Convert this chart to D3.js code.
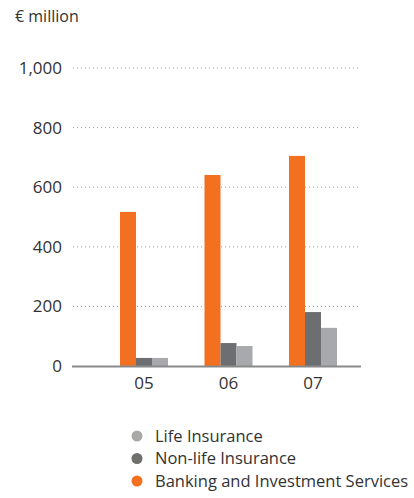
<!DOCTYPE html>
<html><head><meta charset="utf-8">
<script src="https://cdn.jsdelivr.net/npm/d3@7"></script>
<style>body{margin:0;background:#fff}svg{display:block}</style>
</head><body>
<svg id="c" width="414" height="498"></svg>
<script>
const years = ["05", "06", "07"];
const seriesNames = ["Banking and Investment Services", "Non-life Insurance", "Life Insurance"];
const banking = [517, 641, 705];
const nonLife = [27, 77, 181];
const life = [27, 67, 128];
const yTicks = [0, 200, 400, 600, 800, 1000];
const unitLabel = "€ million";
const legendOrder = ["Life Insurance", "Non-life Insurance", "Banking and Investment Services"];

const colors = {"Banking and Investment Services": "#f37021", "Non-life Insurance": "#6d6e71", "Life Insurance": "#a7a9ac"};
const legendColors = {"Banking and Investment Services": "#f37021", "Non-life Insurance": "#6f706c", "Life Insurance": "#a9aaa8"};
const values = {"Banking and Investment Services": banking, "Non-life Insurance": nonLife, "Life Insurance": life};

const font = "'Open Sans', sans-serif";
const svg = d3.select("#c");
const y = d3.scaleLinear().domain([0, 1000]).range([366, 68]);
const pIn = 36.5 / 84.5;
const x0 = d3.scaleBand().domain(years).range([101.75, 355.25]).paddingInner(pIn).paddingOuter(pIn / 2);
const x1 = d3.scaleBand().domain(seriesNames).range([0, x0.bandwidth()]);

// grid
svg.append("g").selectAll("line").data(yTicks.filter(d => d > 0)).join("line")
  .attr("x1", 73).attr("x2", 361).attr("y1", d => y(d)).attr("y2", d => y(d))
  .attr("stroke", "#9a9a9a").attr("stroke-width", 1).attr("stroke-dasharray", "1,3");

// y labels
svg.append("g").selectAll("text").data(yTicks).join("text")
  .attr("x", 62).attr("y", d => y(d)).attr("dy", "0.35em").attr("text-anchor", "end")
  .attr("font-family", font).attr("font-size", 17).attr("fill", "#333")
  .text(d => d3.format(",")(d));

// bars
years.forEach((yr, i) => {
  svg.append("g").selectAll("rect").data(seriesNames).join("rect")
    .attr("x", s => x0(yr) + x1(s)).attr("width", x1.bandwidth())
    .attr("y", s => y(values[s][i])).attr("height", s => y(0) - y(values[s][i]))
    .attr("fill", s => colors[s]);
});

// baseline
svg.append("line").attr("x1", 72).attr("x2", 361).attr("y1", y(0) + 0.5).attr("y2", y(0) + 0.5)
  .attr("stroke", "#8a8a8a").attr("stroke-width", 2);

// x labels
svg.append("g").selectAll("text").data(years).join("text")
  .attr("x", d => x0(d) + x0.bandwidth() / 2).attr("y", 383).attr("dy", "0.35em").attr("text-anchor", "middle")
  .attr("font-family", font).attr("font-size", 17).attr("fill", "#333").text(d => d);

// unit
svg.append("text").attr("x", 15).attr("y", 16).attr("dy", "0.35em")
  .attr("font-family", font).attr("font-size", 16).attr("fill", "#333").text(unitLabel);

// legend
const lg = svg.append("g").selectAll("g").data(legendOrder).join("g")
  .attr("transform", (d, i) => `translate(0,${436 + i * 22.5})`);
lg.append("circle").attr("cx", 137).attr("cy", 0).attr("r", 5.5).attr("fill", d => legendColors[d]);
lg.append("text").attr("x", 155).attr("y", 0).attr("dy", "0.35em")
  .attr("font-family", font).attr("font-size", 16.5).attr("fill", "#333").text(d => d);
</script>
</body></html>
